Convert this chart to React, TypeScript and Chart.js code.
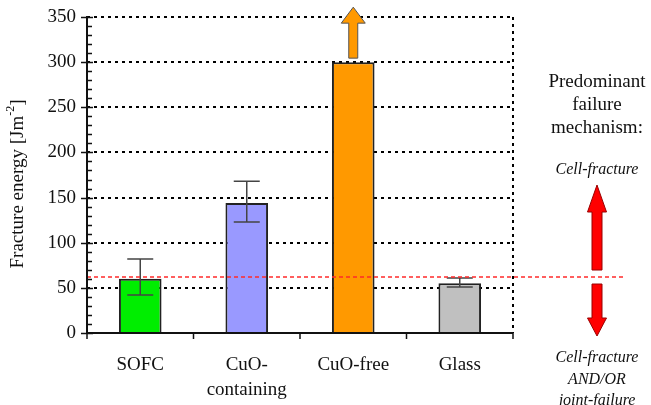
import React, { useEffect, useRef } from "react";
import { Chart, registerables } from "chart.js";
Chart.register(...registerables);

const categories = [["SOFC"], ["CuO-", "containing"], ["CuO-free"], ["Glass"]];
const values = [60, 144, 300, 55];
const errUpper: (number | null)[] = [82, 168, null, 61];
const errLower: (number | null)[] = [42, 123, null, 51];
const barColors = ["#00ee00", "#9999ff", "#ff9900", "#c0c0c0"];
const threshold = 62;
const yMin = 0;
const yMax = 350;
const yStep = 50;
const minorStep = 10;
const exceedsIndex = 2;
const yTitle = "Fracture energy [Jm";
const yTitleSup = "-2";
const yTitleEnd = "]";
const rightTitle = ["Predominant", "failure", "mechanism:"];
const upLabel = ["Cell-fracture"];
const downLabel = ["Cell-fracture", "AND/OR", "joint-failure"];

const SERIF = "'Liberation Serif', 'Times New Roman', serif";

function arrowPath(ctx: CanvasRenderingContext2D, cx: number, yBase: number, yHeadBase: number, yTip: number, shaftW: number, headW: number) {
  ctx.beginPath();
  ctx.moveTo(cx - shaftW / 2, yBase);
  ctx.lineTo(cx - shaftW / 2, yHeadBase);
  ctx.lineTo(cx - headW / 2, yHeadBase);
  ctx.lineTo(cx, yTip);
  ctx.lineTo(cx + headW / 2, yHeadBase);
  ctx.lineTo(cx + shaftW / 2, yHeadBase);
  ctx.lineTo(cx + shaftW / 2, yBase);
  ctx.closePath();
}

const overlay = {
  id: "overlay",
  afterDatasetsDraw(chart: any) {
    const ctx: CanvasRenderingContext2D = chart.ctx;
    const { left, right, top, bottom } = chart.chartArea;
    const y = chart.scales.y;
    const x = chart.scales.x;
    const meta = chart.getDatasetMeta(0);
    ctx.save();

    // right dotted border
    ctx.strokeStyle = "#000";
    ctx.lineWidth = 2;
    ctx.setLineDash([3, 4]);
    ctx.beginPath();
    ctx.moveTo(right, top);
    ctx.lineTo(right, bottom);
    ctx.stroke();
    ctx.setLineDash([]);

    // error bars
    ctx.strokeStyle = "#444";
    ctx.lineWidth = 1.5;
    meta.data.forEach((bar: any, i: number) => {
      const hi = errUpper[i];
      const lo = errLower[i];
      if (hi == null || lo == null) return;
      const cx = bar.x;
      const yh = y.getPixelForValue(hi);
      const yl = y.getPixelForValue(lo);
      const cap = 13;
      ctx.beginPath();
      ctx.moveTo(cx, yh);
      ctx.lineTo(cx, yl);
      ctx.moveTo(cx - cap, yh);
      ctx.lineTo(cx + cap, yh);
      ctx.moveTo(cx - cap, yl);
      ctx.lineTo(cx + cap, yl);
      ctx.stroke();
    });

    // arrow on exceeding bar
    const eb = meta.data[exceedsIndex];
    if (eb) {
      const topPx = eb.y;
      arrowPath(ctx, eb.x, topPx - 4, topPx - 39, topPx - 55, 9, 24);
      ctx.fillStyle = barColors[exceedsIndex];
      ctx.fill();
      ctx.strokeStyle = "#555";
      ctx.lineWidth = 1;
      ctx.stroke();
    }

    // threshold line
    const ty = y.getPixelForValue(threshold);
    ctx.strokeStyle = "#ff2a2a";
    ctx.lineWidth = 1.5;
    ctx.setLineDash([4, 3]);
    ctx.beginPath();
    ctx.moveTo(left, ty);
    ctx.lineTo(625, ty);
    ctx.stroke();
    ctx.setLineDash([]);

    // axes
    ctx.strokeStyle = "#111";
    ctx.lineWidth = 2;
    ctx.beginPath();
    ctx.moveTo(left, top - 1);
    ctx.lineTo(left, bottom);
    ctx.lineTo(right, bottom);
    ctx.stroke();
    // y ticks
    ctx.lineWidth = 1.5;
    ctx.beginPath();
    for (let v = yMin; v <= yMax; v += minorStep) {
      const py = Math.round(y.getPixelForValue(v)) + 0.5;
      if (v % yStep === 0) {
        ctx.moveTo(left - 6, py);
        ctx.lineTo(left + 6, py);
      } else {
        ctx.moveTo(left, py);
        ctx.lineTo(left + 5, py);
      }
    }
    ctx.stroke();
    // x ticks at category boundaries
    ctx.beginPath();
    const n = categories.length;
    for (let i = 0; i <= n; i++) {
      const px = i === n ? right : i === 0 ? left : (x.getPixelForValue(i - 1) + x.getPixelForValue(i)) / 2;
      ctx.moveTo(px, bottom);
      ctx.lineTo(px, bottom + 6);
    }
    ctx.stroke();

    // y title
    ctx.save();
    ctx.translate(18, 184);
    ctx.rotate(-Math.PI / 2);
    ctx.fillStyle = "#111";
    ctx.textBaseline = "middle";
    ctx.font = `19px ${SERIF}`;
    const w1 = ctx.measureText(yTitle).width;
    ctx.font = `12px ${SERIF}`;
    const w2 = ctx.measureText(yTitleSup).width;
    ctx.font = `19px ${SERIF}`;
    const w3 = ctx.measureText(yTitleEnd).width;
    const total = w1 + w2 + w3;
    let sx = -total / 2;
    ctx.textAlign = "left";
    ctx.fillText(yTitle, sx, 0);
    sx += w1;
    ctx.font = `12px ${SERIF}`;
    ctx.fillText(yTitleSup, sx, -7);
    sx += w2;
    ctx.font = `19px ${SERIF}`;
    ctx.fillText(yTitleEnd, sx, 0);
    ctx.restore();

    // right annotation
    const rx = 597;
    ctx.fillStyle = "#111";
    ctx.textAlign = "center";
    ctx.textBaseline = "middle";
    ctx.font = `19px ${SERIF}`;
    rightTitle.forEach((t, i) => ctx.fillText(t, rx, 82 + i * 23));
    ctx.font = `italic 16px ${SERIF}`;
    upLabel.forEach((t, i) => ctx.fillText(t, rx, 170 + i * 21));
    downLabel.forEach((t, i) => ctx.fillText(t, rx, 358 + i * 21.5));

    ctx.fillStyle = "#ff0000";
    ctx.strokeStyle = "#990000";
    ctx.lineWidth = 1;
    arrowPath(ctx, rx, ty - 7, 212, 185, 10, 19);
    ctx.fill();
    ctx.stroke();
    arrowPath(ctx, rx, ty + 7, 318, 336, 10, 19);
    ctx.fill();
    ctx.stroke();

    ctx.restore();
  },
};

export default function App() {
  const ref = useRef<HTMLCanvasElement | null>(null);
  useEffect(() => {
    document.body.style.margin = "0";
    const canvas = ref.current;
    if (!canvas) return;
    const chart = new Chart(canvas, {
      type: "bar",
      data: {
        labels: categories as any,
        datasets: [
          {
            data: values,
            backgroundColor: barColors,
            borderColor: "#222",
            borderWidth: 2,
            barPercentage: 0.4,
            categoryPercentage: 1,
          },
        ],
      },
      options: {
        animation: false,
        responsive: false,
        maintainAspectRatio: false,
        layout: { padding: { top: 17, right: 138, left: 0, bottom: 0 } },
        plugins: { legend: { display: false }, tooltip: { enabled: false } },
        scales: {
          x: {
            grid: { display: false, drawTicks: false },
            border: { display: false },
            ticks: {
              color: "#111",
              font: { family: SERIF, size: 19, lineHeight: 1.3 },
              padding: 20,
              maxRotation: 0,
              autoSkip: false,
            },
            afterFit: (s: any) => {
              s.height = 72;
              s.paddingLeft = 0;
              s.paddingRight = 0;
            },
          },
          y: {
            min: yMin,
            max: yMax,
            grid: { color: "#000", lineWidth: 2, drawTicks: false },
            border: { display: false, dash: [3, 4] },
            ticks: {
              stepSize: yStep,
              color: "#111",
              font: { family: SERIF, size: 19 },
              padding: 11,
            },
            afterFit: (s: any) => {
              s.width = 87;
              s.paddingTop = 0;
              s.paddingBottom = 0;
            },
          },
        },
      },
      plugins: [overlay],
    });
    return () => chart.destroy();
  }, []);
  return (
    <div style={{ width: 651, height: 405 }}>
      <canvas ref={ref} width={651} height={405} style={{ display: "block", width: 651, height: 405 }} />
    </div>
  );
}
